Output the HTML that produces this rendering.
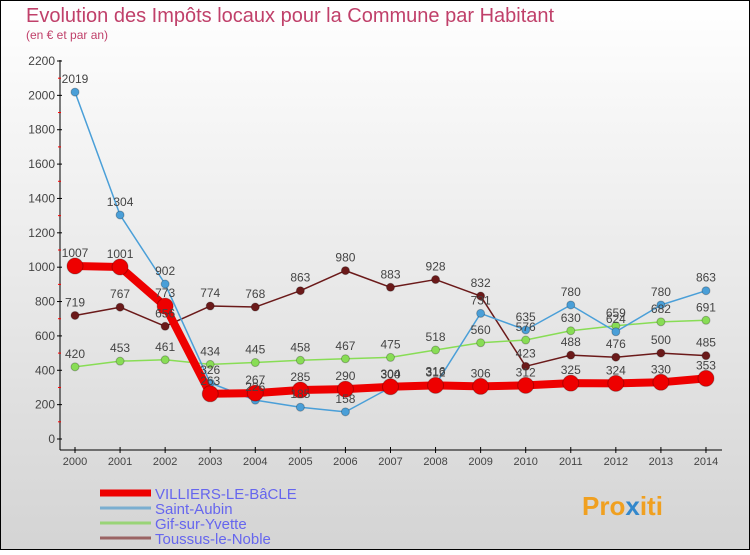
<!DOCTYPE html>
<html><head><meta charset="utf-8"><style>
body{margin:0}
#c{width:750px;height:550px;position:relative;font-family:"Liberation Sans",sans-serif}
svg text{font-family:"Liberation Sans",sans-serif}
</style></head><body>
<div id="c">
<svg id="s" width="750" height="550" viewBox="0 0 750 550" xmlns="http://www.w3.org/2000/svg">
<defs><linearGradient id="bg" x1="0" y1="0" x2="0" y2="1"><stop offset="0" stop-color="#ffffff"/><stop offset="1" stop-color="#d4d4d4"/></linearGradient></defs>
<rect x="0.5" y="0.5" width="749" height="549" fill="url(#bg)" stroke="#000"/>
<text x="26" y="22" font-size="20" fill="#c0406a">Evolution des Impôts locaux pour la Commune par Habitant</text>
<text x="26" y="39" font-size="12" fill="#c0406a">(en € et par an)</text>
<g id="axes"></g>
<g id="series"></g>
<g id="legend"></g>
<text x="582" y="515" font-size="26" font-weight="bold" fill="#f0a020">Pro<tspan fill="#3388cc">x</tspan>iti</text>
</svg>
</div>
<script>
const years=[2000,2001,2002,2003,2004,2005,2006,2007,2008,2009,2010,2011,2012,2013,2014];
const yTicks=[0,200,400,600,800,1000,1200,1400,1600,1800,2000,2200];
const villiers=[1007,1001,773,263,267,285,290,304,312,306,312,325,324,330,353];
const saintAubin=[2019,1304,902,326,226,185,158,300,316,731,635,780,624,780,863];
const gif=[420,453,461,434,445,458,467,475,518,560,576,630,659,682,691];
const toussus=[719,767,656,774,768,863,980,883,928,832,423,488,476,500,485];
const names=["VILLIERS-LE-BâCLE","Saint-Aubin","Gif-sur-Yvette","Toussus-le-Noble"];
const NS="http://www.w3.org/2000/svg";
const x=i=>75+i*45.07;
const y=v=>439-v*(378/2200);
function mk(t,a,p){const e=document.createElementNS(NS,t);for(const k in a)e.setAttribute(k,a[k]);p.appendChild(e);return e;}
const ax=document.getElementById('axes');
let yl=mk('line',{x1:60,y1:60,x2:60,y2:450,stroke:'#000'},ax);


let xl=mk('line',{x1:60,y1:450,x2:722,y2:450,stroke:'#000'},ax);


yTicks.forEach((v,i)=>{
  mk('line',{x1:57,y1:y(v),x2:62,y2:y(v),stroke:'#000'},ax);
  if(i<yTicks.length-1) mk('line',{x1:58,y1:y(v+100),x2:61,y2:y(v+100),stroke:'#f00'},ax);
  const t=mk('text',{x:55,y:y(v)+4,'font-size':12,'text-anchor':'end',fill:'#444'},ax);
  t.textContent=v;
  
  
});
years.forEach((yr,i)=>{
  mk('line',{x1:x(i),y1:447,x2:x(i),y2:453,stroke:'#000'},ax);
  const t=mk('text',{x:x(i),y:465,'font-size':11,'text-anchor':'middle',fill:'#444'},ax);
  t.textContent=yr;
  
  
});
const sg=document.getElementById('series');
const defs=[
 {d:toussus,c:'#6b1a1a',w:1.5,r:4,n:'toussus-le-noble'},
 {d:gif,c:'#88dd55',w:1.5,r:4,n:'gif-sur-yvette'},
 {d:saintAubin,c:'#4a9fd8',w:1.5,r:4,n:'saint-aubin'},
 {d:villiers,c:'#ee0000',w:8,r:8,n:'villiers-le-bacle'}];
const order=[3,2,1,0];
defs.forEach(s=>{
  const g=mk('g',{},sg);
  
  
  const pl=mk('polyline',{points:s.d.map((v,i)=>x(i)+','+y(v)).join(' '),fill:'none',stroke:s.c,'stroke-width':s.w,'stroke-linejoin':'round'},g);
  
  
  s.d.forEach((v,i)=>{
    const p=mk('circle',{cx:x(i),cy:y(v),r:s.r,fill:s.c,stroke:'rgba(0,0,0,0.25)'},g);
    
    
  });
});
defs.forEach(s=>{
  s.d.forEach((v,i)=>{
    const t=mk('text',{x:x(i),y:y(v)-9,'font-size':12,'text-anchor':'middle',fill:'#444'},sg);
    t.textContent=v;
    
    
  });
});
const lg=document.getElementById('legend');
const lc=['#ee0000','#7aaed0','#99d477','#9a6464'];const lw=[7,3,3,3];
names.forEach((n,i)=>{
  const yy=493+i*15;
  const g=mk('g',{},lg);
  
  
  mk('line',{x1:100,y1:yy,x2:151,y2:yy,stroke:lc[i],'stroke-width':lw[i]},g);
  const t=mk('text',{x:155,y:yy+6,'font-size':15,fill:'#6666ee'},g);
  t.textContent=n;
});
</script>
</body></html>
